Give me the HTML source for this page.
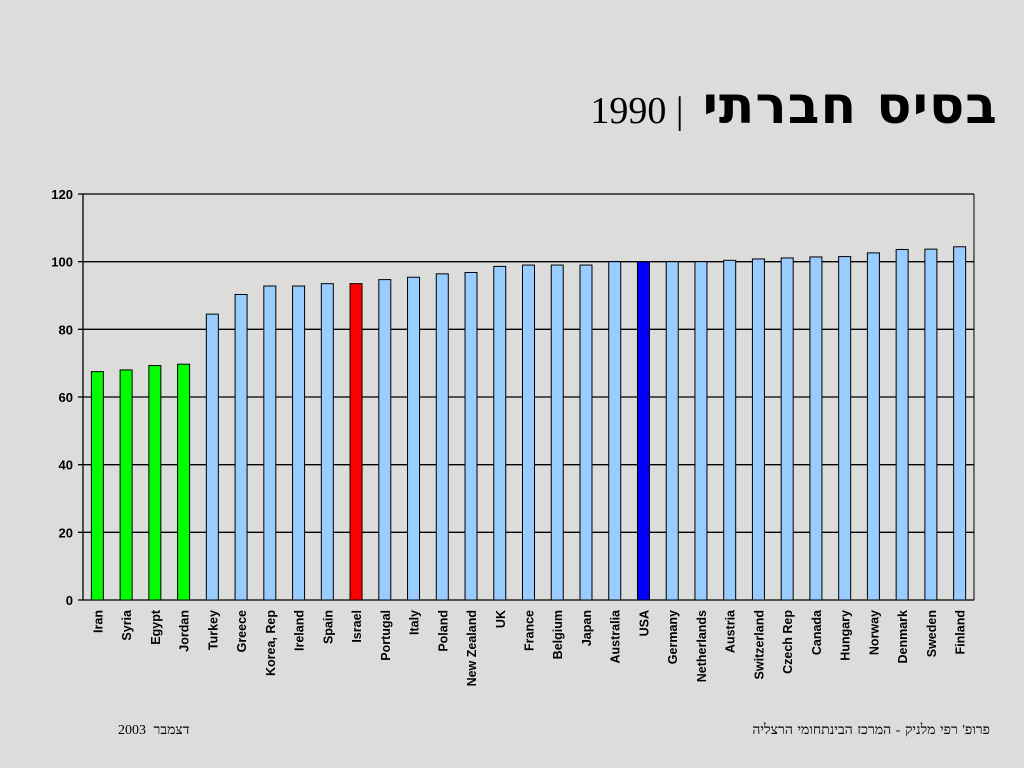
<!DOCTYPE html>
<html><head><meta charset="utf-8">
<style>
html,body{margin:0;padding:0;}
body{width:1024px;height:768px;background:#dcdcda;position:relative;overflow:hidden;font-family:"Liberation Sans",sans-serif;}
#title{position:absolute;right:26px;top:76px;font-size:52px;font-weight:bold;font-family:"DejaVu Sans","Liberation Serif",serif;direction:rtl;white-space:nowrap;letter-spacing:1px;}
#title .yr{font-family:"Liberation Serif",serif;font-weight:normal;font-size:38px;letter-spacing:0;}
.foot{position:absolute;top:723px;font-size:14px;font-family:"Liberation Serif","DejaVu Sans",serif;direction:rtl;white-space:nowrap;}
</style></head><body>
<div id="title">בסיס חברתי <span class="yr">| 1990</span></div>
<svg id="chart" width="1024" height="768" style="position:absolute;left:0;top:0"></svg>
<div class="foot" style="left:118px;word-spacing:4px">דצמבר 2003</div>
<div class="foot" style="right:34px;word-spacing:1px">פרופ' רפי מלניק - המרכז הבינתחומי הרצליה</div>
<script>
const categories=["Iran","Syria","Egypt","Jordan","Turkey","Greece","Korea, Rep","Ireland","Spain","Israel","Portugal","Italy","Poland","New Zealand","UK","France","Belgium","Japan","Australia","USA","Germany","Netherlands","Austria","Switzerland","Czech Rep","Canada","Hungary","Norway","Denmark","Sweden","Finland"];
const values=[67.5,68,69.3,69.7,84.5,90.3,92.8,92.8,93.5,93.5,94.7,95.4,96.4,96.8,98.6,99,99,99,100,100,100,100,100.4,100.8,101.1,101.4,101.5,102.6,103.6,103.7,104.4];
const groups=["arab","arab","arab","arab","oecd","oecd","oecd","oecd","oecd","israel","oecd","oecd","oecd","oecd","oecd","oecd","oecd","oecd","oecd","usa","oecd","oecd","oecd","oecd","oecd","oecd","oecd","oecd","oecd","oecd","oecd"];
const yTicks=[0,20,40,60,80,100,120];
const colors={arab:"#00ff00",oecd:"#99ccff",israel:"#ff0000",usa:"#0000ff"};
const L=83,R=974,T=194,B=600,yMax=120;
const svg=document.getElementById('chart');
const NS="http://www.w3.org/2000/svg";
function y(v){return B-(v/yMax)*(B-T);}
const step=(R-L)/categories.length;
function x(i){return L+step*(i+0.5);}
function mk(t,a){const e=document.createElementNS(NS,t);for(const k in a)e.setAttribute(k,a[k]);svg.appendChild(e);return e;}
yTicks.forEach(v=>{
  const g=mk('line',{x1:L-5,x2:R,y1:y(v),y2:y(v),stroke:'#000','stroke-width':1.3});
  
  
  const t=mk('text',{x:L-10,y:y(v)+5,'text-anchor':'end','font-size':13,'font-weight':'bold','font-family':'Liberation Sans, sans-serif'});
  t.textContent=v;
  
  
});
const ax=mk('line',{x1:L,x2:L,y1:T,y2:B,stroke:'#000','stroke-width':1.3});


const rb=mk('line',{x1:R,x2:R,y1:T,y2:B,stroke:'#000','stroke-width':1});


categories.forEach((c,i)=>{
  const bw=12;
  const r=mk('rect',{x:x(i)-bw/2,y:y(values[i]),width:bw,height:B-y(values[i]),fill:colors[groups[i]],stroke:'#000','stroke-width':1});
  
  
  const t=mk('text',{x:0,y:0,'text-anchor':'end','font-size':12.5,'font-weight':'bold','font-family':'Liberation Sans, sans-serif',transform:`translate(${x(i)+5},${B+10}) rotate(-90)`});
  t.textContent=c;
  
  
});
</script>
</body></html>
